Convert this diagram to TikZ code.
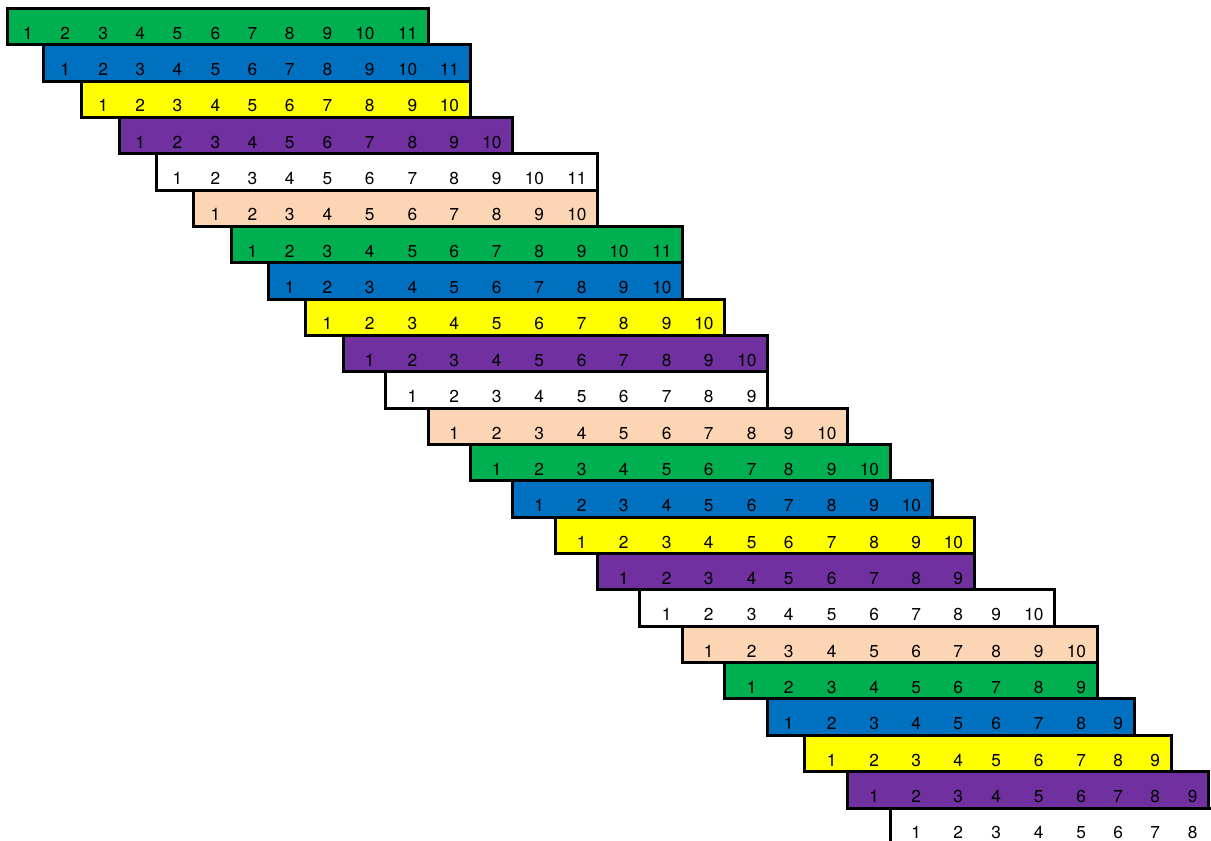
\documentclass[tikz,border=0pt]{standalone}
\usepackage{fontspec}
\setmainfont{TeX Gyre Heros}
\definecolor{cgreen}{HTML}{00B050}
\definecolor{cblue}{HTML}{0070C0}
\definecolor{cyellow}{HTML}{FFFF00}
\definecolor{cpurple}{HTML}{7030A0}
\definecolor{cwhite}{HTML}{FFFFFF}
\definecolor{cpeach}{HTML}{FCD5B4}
\tikzset{
  rowbox/.style={draw=black, line width=3pt, line join=miter},
  num/.style={anchor=base east, inner sep=0pt, outer sep=0pt, text=black,
    font=\fontsize{17.3}{20}\selectfont}
}
\def\bvals{{7,43.7,81,119,156,193.3,231.3,268.3,305.5,343.3,385.5,428.3,470,512.5,555,597.5,639.5,682.5,724.5,767.5,804.5,847.5,890,932,974,1012,1054.5,1097,1134,1171,1208.5,1250}}
\begin{document}
\begin{tikzpicture}[x=1pt,y=-1pt]
\useasboundingbox (0,0) rectangle (1211,841);
\clip (0,0) rectangle (1211,841);
\foreach \r/\n/\m/\col in {
  1/11/11/cgreen, 2/11/11/cblue, 3/10/10/cyellow, 4/10/10/cpurple, 5/11/11/cwhite, 6/10/10/cpeach,
  7/11/11/cgreen, 8/10/10/cblue, 9/10/10/cyellow, 10/10/10/cpurple, 11/9/9/cwhite, 12/10/10/cpeach,
  13/10/10/cgreen, 14/10/10/cblue, 15/10/10/cyellow, 16/9/9/cpurple, 17/10/10/cwhite, 18/10/10/cpeach,
  19/9/9/cgreen, 20/9/9/cblue, 21/9/9/cyellow, 22/9/9/cpurple, 23/8/9/cwhite}{
  \pgfmathsetmacro\L{\bvals[\r-1]}
  \pgfmathsetmacro\R{\bvals[\r-1+\m]}
  \pgfmathsetmacro\T{8.3+36.35*(\r-1)}
  \pgfmathsetmacro\Bt{\T+36.35}
  \pgfmathsetmacro\Bl{\Bt-5.5}
  \draw[rowbox, fill=\col] (\L,\T) rectangle (\R,\Bt);
  \foreach \j in {1,...,\n}{
    \pgfmathsetmacro\X{\bvals[\r+\j-1]-11}
    \node[num] (n\r-\j) at (\X,\Bl) {\j};
  }
}
\end{tikzpicture}
\end{document}
